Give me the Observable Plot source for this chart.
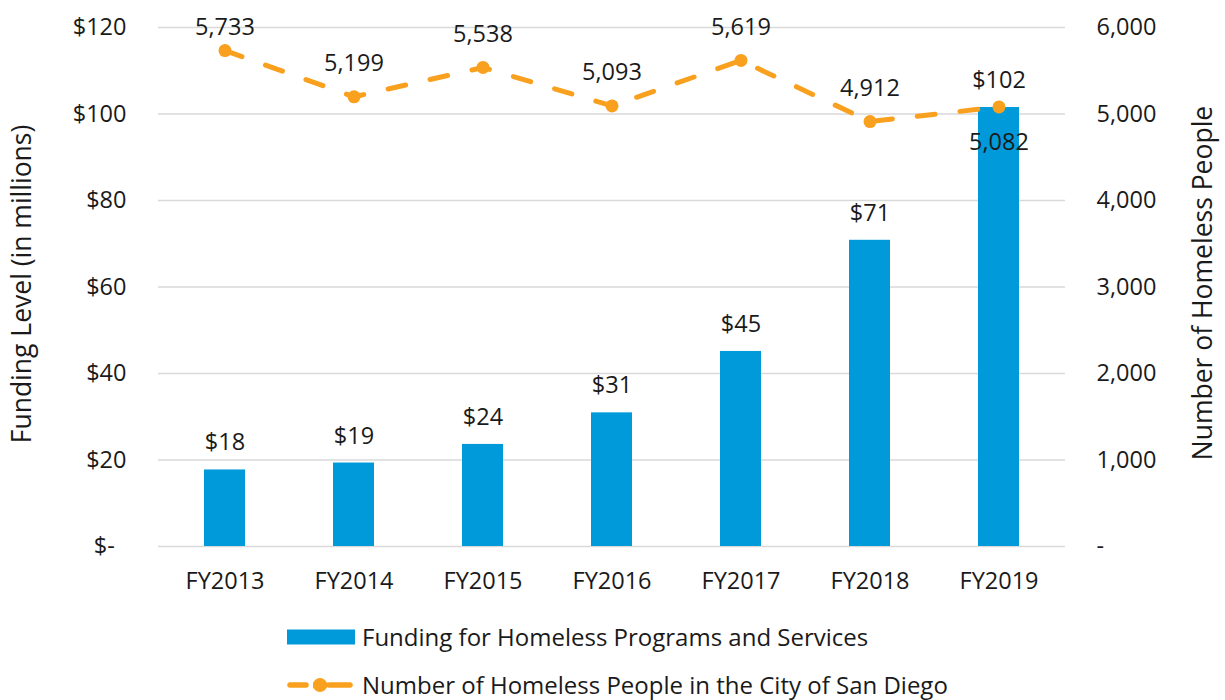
<!DOCTYPE html>
<html>
<head>
<meta charset="utf-8">
<script src="https://cdn.jsdelivr.net/npm/d3@7"></script>
<script src="https://cdn.jsdelivr.net/npm/@observablehq/plot@0.6"></script>
<style>
  html, body { margin: 0; padding: 0; background: #fff; }
  body { font-family: "Open Sans", sans-serif; color: #1a1a1a; }
  #wrap { position: relative; width: 1225px; height: 700px; }
  .leg { position: absolute; left: 287px; display: flex; align-items: center; font-size: 24px; line-height: 26px; height: 26px; white-space: nowrap; }
  .leg svg { margin-right: 7px; flex: none; }
</style>
</head>
<body>
<div id="wrap">
  <div id="chart"></div>
  <div class="leg" style="top:624px;">
    <svg width="68" height="26"><rect x="0" y="5.5" width="68" height="15" fill="#009ADB"></rect></svg>
    <span>Funding for Homeless Programs and Services</span>
  </div>
  <div class="leg" style="top:672px;">
    <svg width="68" height="26"><line x1="3" y1="13" x2="19" y2="13" stroke="#F9A11E" stroke-width="5.5" stroke-linecap="round"></line><line x1="42" y1="13" x2="63" y2="13" stroke="#F9A11E" stroke-width="5.5" stroke-linecap="round"></line><line x1="26" y1="13" x2="40" y2="13" stroke="#F9A11E" stroke-width="5.5"></line><circle cx="33" cy="13" r="7" fill="#F9A11E"></circle></svg>
    <span>Number of Homeless People in the City of San Diego</span>
  </div>
</div>
<script>
const years = ["FY2013", "FY2014", "FY2015", "FY2016", "FY2017", "FY2018", "FY2019"];
const funding = [17.7, 19.3, 23.6, 30.9, 45.1, 70.8, 101.5];
const fundingLabels = ["$18", "$19", "$24", "$31", "$45", "$71", "$102"];
const homeless = [5733, 5199, 5538, 5093, 5619, 4912, 5082];
const leftTicks = [0, 20, 40, 60, 80, 100, 120];
const rightMax = 6000;
const leftMax = 120;

const BLUE = "#009ADB";
const ORANGE = "#F9A11E";
const ratio = leftMax / rightMax;
const FS = 23.5;

const rows = years.map((y, i) => ({
  year: y, funding: funding[i], flabel: fundingLabels[i],
  count: homeless[i], scaled: homeless[i] * ratio, i
}));
const fmt = d3.format(",");

const chart = Plot.plot({
  width: 1225,
  height: 600,
  marginLeft: 158,
  marginRight: 160,
  marginTop: 27,
  marginBottom: 54,
  style: { fontFamily: "Open Sans, sans-serif", fontSize: FS + "px", color: "#1a1a1a", background: "#fff", overflow: "visible" },
  x: { domain: years, paddingInner: 0.684, paddingOuter: 0.342, label: null },
  y: { domain: [0, leftMax], label: null },
  marks: [
    Plot.gridY(leftTicks, { stroke: "#d9d9d9", strokeOpacity: 1, strokeWidth: 1.5 }),
    Plot.axisX({ tickSize: 0, tickPadding: 26, label: null, fontSize: FS }),
    Plot.axisY({ anchor: "left", ticks: leftTicks, tickSize: 0, tickPadding: 32, label: null, fontSize: FS,
      tickFormat: d => d === 0 ? "$-\u2002" : "$" + d }),
    Plot.axisY({ anchor: "right", ticks: leftTicks, tickSize: 0, tickPadding: 31, label: null, textAnchor: "start", fontSize: FS,
      tickFormat: d => d === 0 ? "-" : fmt(d / ratio) }),
    Plot.barY(rows, { x: "year", y: "funding", fill: BLUE }),
    Plot.text(rows, { x: "year", y: "funding", text: "flabel", dy: -27, fontSize: FS }),
    Plot.line(rows, { x: "year", y: "scaled", stroke: ORANGE, strokeWidth: 5, strokeDasharray: "18,25", strokeLinecap: "round" }),
    Plot.dot(rows, { x: "year", y: "scaled", r: 6.5, fill: ORANGE }),
    Plot.text(rows.filter(d => d.i > 0 && d.i < rows.length - 1), { x: "year", y: "scaled", text: d => fmt(d.count), dy: -33, fontSize: FS }),
    Plot.text(rows.filter(d => d.i === 0), { x: "year", y: "scaled", text: d => fmt(d.count), dy: -23, fontSize: FS }),
    Plot.text(rows.filter(d => d.i === rows.length - 1), { x: "year", y: "scaled", text: d => fmt(d.count), dy: 36, fontSize: FS }),
    Plot.text(["Funding Level (in millions)"], { frameAnchor: "left", textAnchor: "middle", dx: -136, dy: -3, rotate: -90, fontSize: 26.5 }),
    Plot.text(["Number of Homeless People"], { frameAnchor: "right", textAnchor: "middle", dx: 138, dy: -4, rotate: -90, fontSize: 26.5 })
  ]
});
document.getElementById("chart").appendChild(chart);
</script>
</body>
</html>
